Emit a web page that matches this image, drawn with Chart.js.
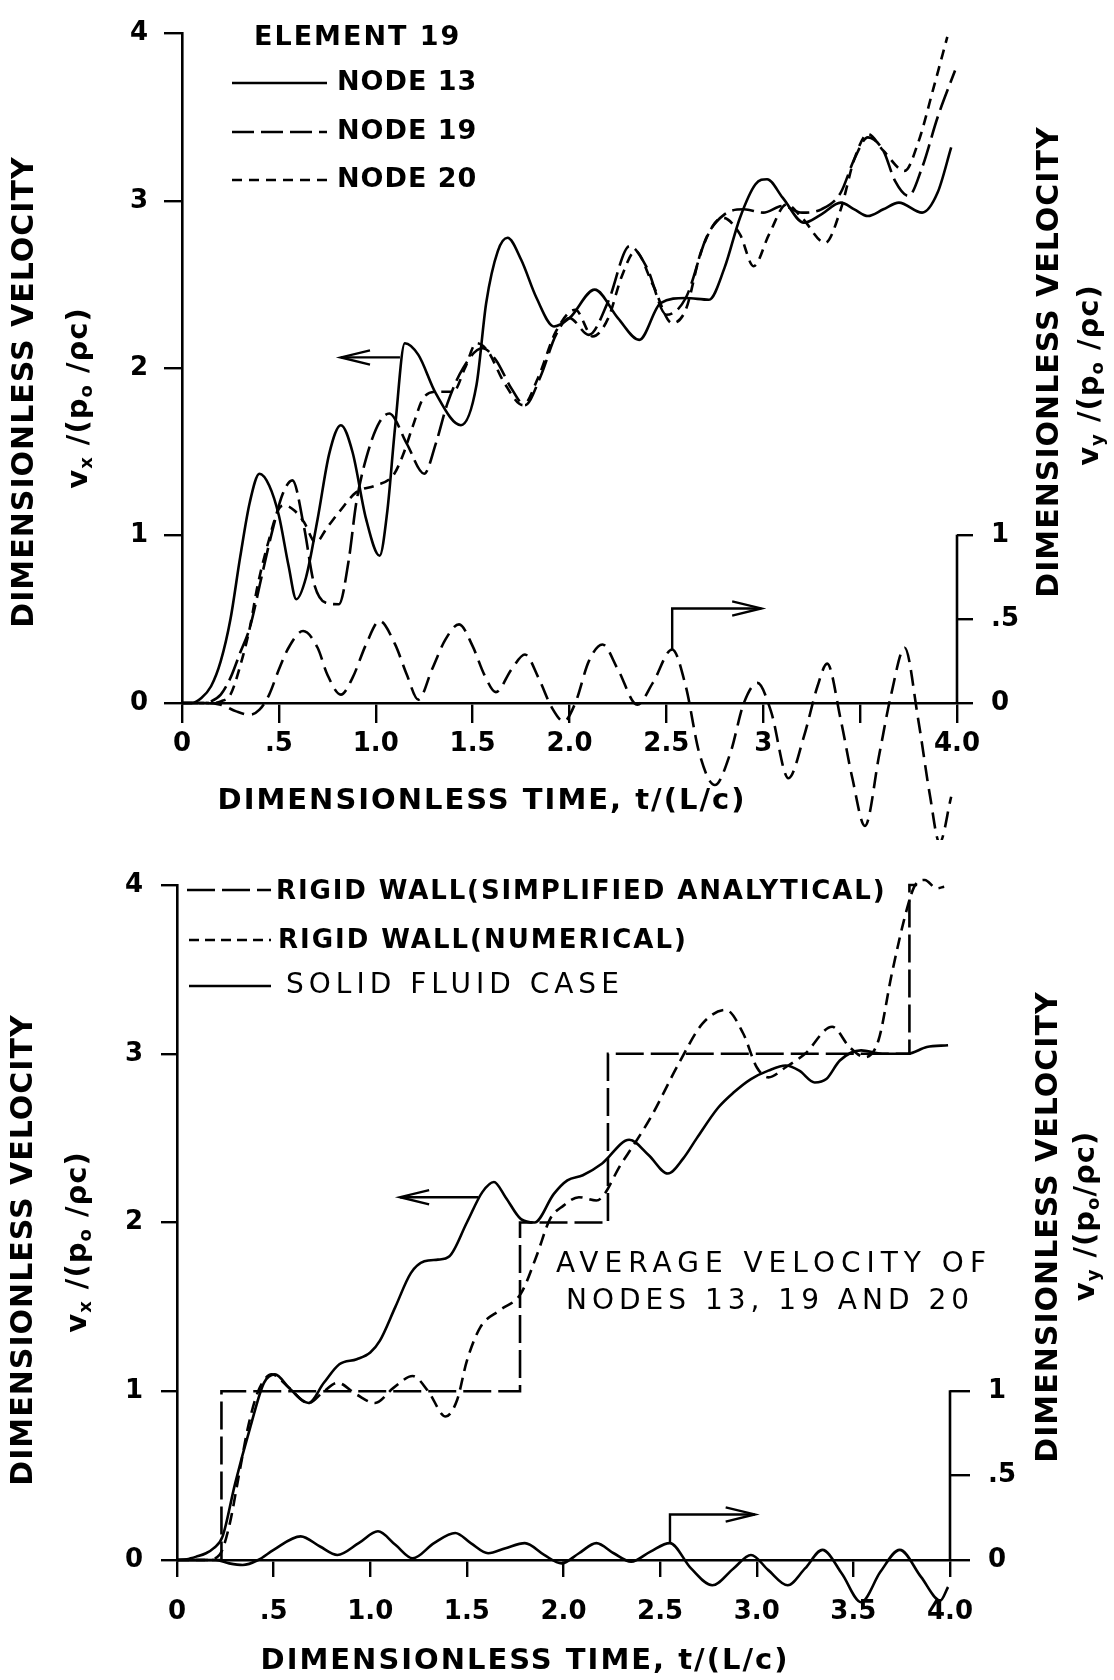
<!DOCTYPE html>
<html><head><meta charset="utf-8">
<script src="https://cdn.jsdelivr.net/npm/chart.js@4.4.1/dist/chart.umd.min.js"></script>
<style>
html,body{margin:0;padding:0;background:#fff;}
#wrap{position:relative;width:1114px;height:1680px;overflow:hidden;}
canvas{position:absolute;left:0;}
#c1{top:0}
#c2{top:840px}
</style></head><body>
<div id="wrap"><canvas id="c1" width="1114" height="840"></canvas><canvas id="c2" width="1114" height="840"></canvas></div>
<script>
// ---------- tick values / labels ----------
const X_TICKS = [0,0.5,1,1.5,2,2.5,3,3.5,4];
const TOP_X_LABELS = ['0','.5','1.0','1.5','2.0','2.5','3','','4.0'];
const BOT_X_LABELS = ['0','.5','1.0','1.5','2.0','2.5','3.0','3.5','4.0'];
const VX_TICKS = [0,1,2,3,4];
const VX_LABELS = ['0','1','2','3','4'];
const VY_TICKS = [0,0.5,1];
const VY_LABELS = ['0','.5','1'];

// ---------- top chart: Element 19 ----------
const node13_t = [0,0.05,0.1,0.15,0.2,0.25,0.3,0.35,0.4,0.45,0.5,0.55,0.59,0.64,0.7,0.76,0.82,0.88,0.95,1.02,1.06,1.1,1.15,1.22,1.31,1.44,1.52,1.57,1.63,1.68,1.75,1.83,1.92,2.0,2.13,2.25,2.36,2.47,2.6,2.72,2.8,2.88,2.96,3.02,3.1,3.21,3.3,3.4,3.47,3.54,3.62,3.7,3.82,3.9,3.97];
const node13_v = [0,0,0.03,0.1,0.25,0.5,0.87,1.2,1.37,1.3,1.12,0.82,0.62,0.75,1.1,1.49,1.66,1.5,1.1,0.88,1.15,1.65,2.15,2.08,1.85,1.66,1.9,2.39,2.7,2.78,2.65,2.42,2.25,2.3,2.47,2.3,2.17,2.39,2.42,2.41,2.6,2.9,3.1,3.13,3.02,2.87,2.92,2.99,2.95,2.91,2.95,2.99,2.93,3.05,3.32];

const node19_t = [0,0.1,0.15,0.2,0.25,0.3,0.35,0.41,0.46,0.52,0.57,0.63,0.68,0.74,0.81,0.86,0.9,0.96,1.02,1.07,1.16,1.25,1.31,1.37,1.45,1.55,1.62,1.7,1.77,1.85,1.93,2.0,2.1,2.2,2.31,2.4,2.5,2.6,2.71,2.8,2.9,3.0,3.1,3.2,3.3,3.4,3.47,3.54,3.62,3.68,3.75,3.82,3.9,3.99];
const node19_v = [0,0,0.01,0.05,0.15,0.3,0.45,0.75,1.0,1.25,1.33,1.05,0.72,0.6,0.59,0.85,1.2,1.5,1.68,1.73,1.55,1.37,1.55,1.79,2.0,2.12,2.05,1.88,1.78,1.95,2.2,2.3,2.2,2.4,2.73,2.6,2.32,2.42,2.79,2.92,2.95,2.93,2.97,2.93,2.95,3.05,3.25,3.38,3.3,3.12,3.03,3.2,3.5,3.78];

const node20_t = [0,0.15,0.2,0.25,0.3,0.35,0.39,0.45,0.5,0.53,0.58,0.63,0.69,0.75,0.81,0.9,1.0,1.09,1.14,1.19,1.25,1.32,1.4,1.46,1.52,1.58,1.66,1.76,1.84,1.93,2.03,2.12,2.2,2.27,2.34,2.43,2.53,2.6,2.68,2.79,2.88,2.95,3.03,3.12,3.2,3.32,3.4,3.47,3.54,3.62,3.73,3.8,3.88,3.95];
const node20_v = [0,0,0.01,0.05,0.22,0.45,0.7,0.98,1.16,1.18,1.15,1.08,0.96,1.05,1.14,1.26,1.3,1.36,1.48,1.65,1.83,1.86,1.86,2.0,2.15,2.1,1.92,1.78,1.95,2.22,2.35,2.19,2.3,2.55,2.7,2.5,2.27,2.35,2.7,2.9,2.8,2.61,2.8,2.98,2.9,2.75,2.95,3.25,3.4,3.3,3.18,3.35,3.68,3.98];

const vyTop_t = [0,0.1,0.2,0.28,0.35,0.4,0.45,0.5,0.55,0.625,0.7,0.75,0.82,0.88,0.95,1.02,1.1,1.16,1.22,1.29,1.36,1.43,1.5,1.56,1.62,1.7,1.77,1.84,1.91,1.97,2.03,2.1,2.17,2.25,2.35,2.43,2.53,2.6,2.67,2.75,2.83,2.9,2.97,3.04,3.13,3.21,3.28,3.33,3.4,3.46,3.525,3.6,3.66,3.73,3.8,3.86,3.91,3.97];
const vyTop_v = [0,0,-0.01,-0.05,-0.07,-0.04,0.05,0.2,0.33,0.43,0.33,0.17,0.05,0.15,0.35,0.49,0.35,0.17,0.02,0.2,0.38,0.47,0.34,0.17,0.065,0.2,0.29,0.15,-0.03,-0.11,0.0,0.25,0.35,0.2,-0.01,0.12,0.32,0.1,-0.3,-0.49,-0.3,0.0,0.12,-0.05,-0.45,-0.2,0.1,0.235,-0.1,-0.45,-0.735,-0.3,0.05,0.33,-0.1,-0.55,-0.835,-0.56];

// ---------- bottom chart: average of nodes 13, 19, 20 ----------
const analytic_t = [0,0.23,0.23,1.775,1.775,2.23,2.23,3.79,3.79,3.83];
const analytic_v = [0,0,1,1,2,2,3,3,4,4];

const numeric_t = [0,0.15,0.22,0.27,0.32,0.37,0.42,0.49,0.58,0.68,0.76,0.83,0.93,1.025,1.12,1.22,1.3,1.39,1.45,1.5,1.57,1.67,1.78,1.86,1.93,2.0,2.08,2.17,2.3,2.45,2.6,2.72,2.84,2.93,3.0,3.06,3.15,3.25,3.39,3.48,3.56,3.63,3.7,3.78,3.82,3.87,3.93,3.97];
const numeric_v = [0,0,0.03,0.2,0.5,0.8,1.0,1.1,1.02,0.93,1.0,1.05,0.98,0.93,1.02,1.09,1.0,0.85,0.95,1.18,1.38,1.48,1.58,1.8,2.02,2.1,2.15,2.13,2.35,2.62,2.95,3.18,3.26,3.12,2.92,2.86,2.92,3.0,3.16,3.04,2.98,3.08,3.48,3.87,4.0,4.03,3.98,3.99];

const solid_t = [0,0.05,0.1,0.15,0.19,0.236,0.3,0.38,0.45,0.507,0.58,0.68,0.76,0.84,0.93,1.0,1.05,1.13,1.21,1.28,1.35,1.41,1.5,1.58,1.64,1.7,1.78,1.85,1.95,2.02,2.1,2.2,2.34,2.44,2.54,2.62,2.69,2.8,2.88,2.97,3.06,3.15,3.22,3.3,3.36,3.43,3.54,3.65,3.78,3.88,3.99];
const solid_v = [0,0.005,0.02,0.04,0.07,0.14,0.45,0.79,1.05,1.1,1.02,0.93,1.05,1.16,1.19,1.23,1.3,1.5,1.7,1.77,1.78,1.8,2.0,2.18,2.24,2.15,2.02,2.0,2.17,2.25,2.28,2.35,2.49,2.4,2.29,2.38,2.5,2.68,2.77,2.85,2.9,2.93,2.9,2.83,2.85,2.96,3.02,3.0,3.0,3.04,3.05];

const vyBot_t = [0,0.1,0.2,0.27,0.34,0.42,0.5,0.64,0.74,0.83,0.94,1.04,1.13,1.22,1.33,1.44,1.52,1.61,1.7,1.8,1.9,1.99,2.08,2.17,2.26,2.35,2.45,2.55,2.66,2.77,2.88,2.97,3.06,3.16,3.25,3.34,3.44,3.54,3.64,3.74,3.85,3.95,3.99];
const vyBot_v = [0,0,0,-0.02,-0.03,0.0,0.06,0.14,0.08,0.03,0.1,0.17,0.09,0.01,0.1,0.16,0.1,0.04,0.07,0.1,0.03,-0.02,0.04,0.1,0.04,-0.01,0.05,0.1,-0.05,-0.15,-0.05,0.03,-0.06,-0.15,-0.05,0.06,-0.08,-0.25,-0.07,0.06,-0.1,-0.24,-0.16];

// ---------- helpers ----------
const FONT = '"DejaVu Sans", "Liberation Sans", sans-serif';
const pts = (ts, vs) => ts.map((t, i) => ({x: t, y: vs[i]}));

function lineDS(label, t, v, dash, axis, extra) {
  return Object.assign({
    label, data: pts(t, v), borderColor: '#000', borderWidth: 2.6, borderDash: dash,
    pointRadius: 0, fill: false, clip: false, yAxisID: axis,
    cubicInterpolationMode: 'monotone', capBezierPoints: false
  }, extra || {});
}

function txt(ctx, s, x, y, o) {
  o = Object.assign({size: 27, weight: 'bold', align: 'left', ls: 0, rot: 0}, o || {});
  ctx.save();
  ctx.font = `${o.weight} ${o.size}px ${FONT}`;
  ctx.letterSpacing = o.ls + 'px';
  ctx.fillStyle = '#000';
  ctx.textBaseline = 'middle';
  ctx.translate(x, y);
  if (o.rot) ctx.rotate(o.rot);
  let w = ctx.measureText(s).width;
  let sx = o.align === 'center' ? -w / 2 : (o.align === 'right' ? -w : 0);
  ctx.textAlign = 'left';
  ctx.fillText(s, sx, 0);
  ctx.restore();
}

// rich text with subscripts, centered at (x,y), rotated
function rich(ctx, segs, x, y, size, rot) {
  ctx.save();
  ctx.fillStyle = '#000';
  ctx.textBaseline = 'middle';
  ctx.textAlign = 'left';
  ctx.letterSpacing = '1px';
  const fonts = segs.map(s => `bold ${s[1] ? Math.round(size * 0.62) : size}px ${FONT}`);
  let total = 0;
  const widths = segs.map((s, i) => { ctx.font = fonts[i]; const w = ctx.measureText(s[0]).width; total += w; return w; });
  ctx.translate(x, y);
  ctx.rotate(rot);
  let cx = -total / 2;
  segs.forEach((s, i) => {
    ctx.font = fonts[i];
    ctx.fillText(s[0], cx, s[1] ? size * 0.3 : 0);
    cx += widths[i];
  });
  ctx.restore();
}

function arrow(ctx, xs, ys, path) {
  const P = path.map(([t, v]) => [xs.getPixelForValue(t), ys.getPixelForValue(v)]);
  ctx.save();
  ctx.strokeStyle = '#000'; ctx.lineWidth = 2.4; ctx.setLineDash([]);
  ctx.beginPath(); ctx.moveTo(P[0][0], P[0][1]);
  for (let i = 1; i < P.length; i++) ctx.lineTo(P[i][0], P[i][1]);
  ctx.stroke();
  const [x1, y1] = P[P.length - 2], [x2, y2] = P[P.length - 1];
  const a = Math.atan2(y2 - y1, x2 - x1), L = 30, w = 0.24;
  ctx.beginPath();
  ctx.moveTo(x2 - L * Math.cos(a - w), y2 - L * Math.sin(a - w));
  ctx.lineTo(x2, y2);
  ctx.lineTo(x2 - L * Math.cos(a + w), y2 - L * Math.sin(a + w));
  ctx.stroke();
  ctx.restore();
}

function legendLine(ctx, x1, x2, y, dash) {
  ctx.save();
  ctx.strokeStyle = '#000'; ctx.lineWidth = 2.4; ctx.setLineDash(dash);
  ctx.beginPath(); ctx.moveTo(x1, y); ctx.lineTo(x2, y); ctx.stroke();
  ctx.restore();
}

function rightAxisLine(chart) {
  const ctx = chart.ctx, y2 = chart.scales.y2, x = chart.chartArea.right;
  ctx.save();
  ctx.strokeStyle = '#000'; ctx.lineWidth = 2.6;
  ctx.beginPath();
  ctx.moveTo(x, y2.getPixelForValue(VY_TICKS[0]) + 1);
  ctx.lineTo(x, y2.getPixelForValue(VY_TICKS[VY_TICKS.length - 1]) - 1);
  ctx.stroke();
  ctx.restore();
}

function scalesCfg(xLabels, dims) {
  const tickFont = {family: FONT, size: 26, weight: 'bold'};
  const grid = (len) => ({display: true, drawOnChartArea: false, drawTicks: true, tickLength: len, color: '#000', lineWidth: 2.4});
  return {
    x: {
      type: 'linear', min: 0, max: 4,
      afterBuildTicks: s => { s.ticks = X_TICKS.map(v => ({value: v})); },
      ticks: {autoSkip: false, maxRotation: 0, minRotation: 0, color: '#000', font: tickFont, padding: dims.xPad,
              callback: (v, i) => xLabels[i]},
      grid: grid(dims.xTick),
      border: {display: true, color: '#000', width: 2.6},
      afterFit: s => { s.height = dims.xH; }
    },
    y: {
      type: 'linear', position: 'left', min: 0, max: 4,
      afterBuildTicks: s => { s.ticks = VX_TICKS.map(v => ({value: v})); },
      ticks: {color: '#000', font: tickFont, padding: dims.yPad, callback: (v, i) => VX_LABELS[i]},
      grid: grid(dims.yTick),
      border: {display: true, color: '#000', width: 2.6},
      afterFit: s => { s.width = dims.yW; }
    },
    y2: {
      type: 'linear', position: 'right', min: 0, max: 4,
      afterBuildTicks: s => { s.ticks = VY_TICKS.map(v => ({value: v})); },
      ticks: {color: '#000', font: tickFont, padding: 18, callback: (v, i) => VY_LABELS[i]},
      grid: grid(dims.y2Tick),
      border: {display: false},
      afterFit: s => { s.width = dims.y2W; }
    }
  };
}

const commonOpts = {
  responsive: false, animation: false, devicePixelRatio: 1,
  plugins: {legend: {display: false}, tooltip: {enabled: false}},
  events: []
};

// ---------- top chart ----------
const topDecor = {
  id: 'topDecor',
  afterDraw(chart) {
    const ctx = chart.ctx, xs = chart.scales.x, ys = chart.scales.y, y2 = chart.scales.y2;
    rightAxisLine(chart);
    const R = -Math.PI / 2;
    txt(ctx, 'DIMENSIONLESS VELOCITY', 25, 392, {size: 30, align: 'center', rot: R, ls: 1});
    rich(ctx, [['v'], ['x', 1], [' /('], ['p'], ['o', 1], [' /ρc)']], 79, 398, 29, R);
    txt(ctx, 'DIMENSIONLESS VELOCITY', 1050, 362, {size: 30, align: 'center', rot: R, ls: 1});
    rich(ctx, [['v'], ['y', 1], [' /('], ['p'], ['o', 1], [' /ρc)']], 1090, 375, 29, R);
    txt(ctx, 'DIMENSIONLESS TIME, t/(L/c)', 482, 801, {size: 29, align: 'center', ls: 2});
    txt(ctx, 'ELEMENT 19', 254, 38, {size: 27, ls: 2});
    legendLine(ctx, 232, 327, 83, []);
    legendLine(ctx, 232, 327, 132, [22, 7]);
    legendLine(ctx, 232, 327, 180, [10, 7]);
    txt(ctx, 'NODE 13', 337, 83, {size: 27, ls: 1});
    txt(ctx, 'NODE 19', 337, 132, {size: 27, ls: 1});
    txt(ctx, 'NODE 20', 337, 180, {size: 27, ls: 1});
    arrow(ctx, xs, ys, [[1.125, 2.065], [0.82, 2.065]]);
    arrow(ctx, xs, y2, [[2.53, 0.32], [2.53, 0.565], [2.99, 0.565]]);
  }
};

new Chart(document.getElementById('c1'), {
  type: 'line',
  data: {datasets: [
    lineDS('NODE 13', node13_t, node13_v, [], 'y'),
    lineDS('NODE 19', node19_t, node19_v, [22, 7], 'y'),
    lineDS('NODE 20', node20_t, node20_v, [10, 7], 'y'),
    lineDS('vy', vyTop_t, vyTop_v, [16, 8], 'y2')
  ]},
  options: Object.assign({}, commonOpts, {
    layout: {padding: {left: 0, right: 0, top: 29, bottom: 0}},
    scales: scalesCfg(TOP_X_LABELS, {xH: 137, xTick: 20, xPad: 6, yW: 182, yTick: 18, yPad: 16, y2W: 157, y2Tick: 16})
  }),
  plugins: [topDecor]
});

// ---------- bottom chart ----------
const botDecor = {
  id: 'botDecor',
  afterDraw(chart) {
    const ctx = chart.ctx, xs = chart.scales.x, ys = chart.scales.y, y2 = chart.scales.y2;
    rightAxisLine(chart);
    const R = -Math.PI / 2;
    txt(ctx, 'DIMENSIONLESS VELOCITY', 24, 410, {size: 30, align: 'center', rot: R, ls: 1});
    rich(ctx, [['v'], ['x', 1], [' /('], ['p'], ['o', 1], [' /ρc)']], 78, 402, 29, R);
    txt(ctx, 'DIMENSIONLESS VELOCITY', 1049, 387, {size: 30, align: 'center', rot: R, ls: 1});
    rich(ctx, [['v'], ['y', 1], [' /('], ['p'], ['o', 1], ['/ρc)']], 1086, 376, 29, R);
    txt(ctx, 'DIMENSIONLESS TIME, t/(L/c)', 525, 821, {size: 29, align: 'center', ls: 2});
    legendLine(ctx, 187, 271, 50, [28, 7]);
    legendLine(ctx, 189, 271, 100, [10, 6]);
    legendLine(ctx, 189, 271, 146, []);
    txt(ctx, 'RIGID WALL(SIMPLIFIED ANALYTICAL)', 276, 52, {size: 26, ls: 1.9});
    txt(ctx, 'RIGID WALL(NUMERICAL)', 278, 101, {size: 26, ls: 2});
    txt(ctx, 'SOLID FLUID CASE', 286, 146, {size: 28, ls: 5, weight: 'normal'});
    txt(ctx, 'AVERAGE VELOCITY OF', 774, 425, {size: 28, ls: 6, align: 'center', weight: 'normal'});
    txt(ctx, 'NODES 13, 19 AND 20', 770, 462, {size: 28, ls: 5, align: 'center', weight: 'normal'});
    arrow(ctx, xs, ys, [[1.56, 2.15], [1.154, 2.15]]);
    arrow(ctx, xs, y2, [[2.551, 0.097], [2.551, 0.27], [2.99, 0.27]]);
  }
};

new Chart(document.getElementById('c2'), {
  type: 'line',
  data: {datasets: [
    lineDS('RIGID WALL(SIMPLIFIED ANALYTICAL)', analytic_t, analytic_v, [28, 7], 'y', {cubicInterpolationMode: 'default', tension: 0}),
    lineDS('RIGID WALL(NUMERICAL)', numeric_t, numeric_v, [12, 7], 'y'),
    lineDS('SOLID FLUID CASE', solid_t, solid_v, [], 'y'),
    lineDS('vy average', vyBot_t, vyBot_v, [], 'y2')
  ]},
  options: Object.assign({}, commonOpts, {
    layout: {padding: {left: 0, right: 0, top: 45, bottom: 0}},
    scales: scalesCfg(BOT_X_LABELS, {xH: 120, xTick: 17, xPad: 20, yW: 177, yTick: 16, yPad: 18, y2W: 164, y2Tick: 20})
  }),
  plugins: [botDecor]
});
</script>
</body></html>
